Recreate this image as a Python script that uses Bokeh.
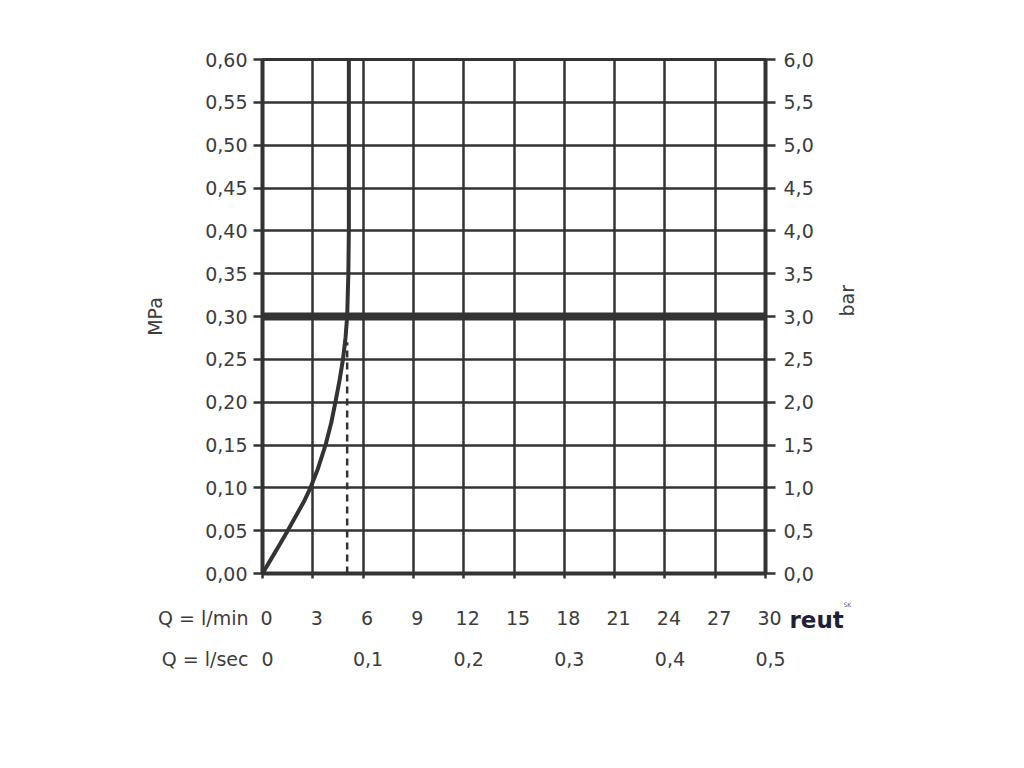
import math
from bokeh.plotting import figure
from bokeh.layouts import column
from bokeh.models import (LinearAxis, Range1d, FixedTicker, CustomJSTickFormatter)
from bokeh.core.properties import value
from bokeh.embed import file_html
from bokeh.resources import INLINE

# ---- data ----
mpa_ticks = [0.00, 0.05, 0.10, 0.15, 0.20, 0.25, 0.30, 0.35, 0.40, 0.45, 0.50, 0.55, 0.60]
bar_ticks = [0.0, 0.5, 1.0, 1.5, 2.0, 2.5, 3.0, 3.5, 4.0, 4.5, 5.0, 5.5, 6.0]
lmin_ticks = [0, 3, 6, 9, 12, 15, 18, 21, 24, 27, 30]
lmin_labels = ["0", "3", "6", "9", "12", "15", "18", "21", "24", "27", "30"]
lsec_ticks = [0, 6, 12, 18, 24, 30]
lsec_labels = ["0", "0,1", "0,2", "0,3", "0,4", "0,5"]
row_titles = ["Q = l/min", "Q = l/sec"]
logo_text = "reut"
logo_sup = "SK"

curve_q = [0, 0.5, 1.0, 1.5, 2.0, 2.5, 2.86, 3.3, 3.76, 4.1, 4.35, 4.6, 4.8, 4.95, 5.05, 5.12, 5.15, 5.15, 5.15]
curve_p = [0, 0.0165, 0.033, 0.05, 0.0675, 0.085, 0.10, 0.122, 0.15, 0.176, 0.20, 0.226, 0.25, 0.275, 0.30, 0.35, 0.40, 0.50, 0.60]

ref_pressure = 0.30
ref_q = [0, 30]
dash_q = 5.05
dash_p = [0, 0.27]

FONT = "DejaVu Sans"
FS = "19px"
TXT = "#3c3c3c"
LINE = "#333333"

# ---- layout constants (pixels) ----
W = 1008
HA, HB = 600, 152                      # main chart / bottom scale rows
FL, FR, FT, FB = 262, 765, 59, 573     # frame edges of the main chart
XMIN, XMAX = 0, 30

# ================= main chart =================
p = figure(width=W, height=HA, x_range=Range1d(XMIN, XMAX), y_range=Range1d(0, 0.60),
           output_backend="svg", toolbar_location=None,
           min_border_left=FL, min_border_right=W - FR,
           min_border_top=FT, min_border_bottom=HA - FB)
p.background_fill_color = "white"
p.border_fill_color = "white"
p.outline_line_color = LINE
p.outline_line_width = 3

def style_axis(ax, tick_out, standoff):
    ax.major_tick_out = tick_out
    ax.major_tick_in = 0
    ax.minor_tick_out = 0
    ax.minor_tick_in = 0
    ax.major_tick_line_width = 2.5
    ax.major_tick_line_color = LINE
    ax.axis_line_width = 4
    ax.axis_line_color = LINE
    ax.major_label_standoff = standoff
    ax.major_label_text_font = FONT
    ax.major_label_text_font_size = FS
    ax.major_label_text_color = TXT
    ax.axis_label_text_font = FONT
    ax.axis_label_text_font_size = FS
    ax.axis_label_text_font_style = "normal"
    ax.axis_label_text_color = TXT

# left axis (MPa)
la = p.yaxis[0]
la.ticker = FixedTicker(ticks=mpa_ticks)
la.formatter = CustomJSTickFormatter(code="return tick.toFixed(2).replace('.', ',');")
style_axis(la, 9, 6)
la.axis_label = "MPa"
la.axis_label_standoff = 36

# right axis (bar)
p.extra_y_ranges = {"bar": Range1d(0, 6.0)}
ra = LinearAxis(y_range_name="bar", ticker=FixedTicker(ticks=bar_ticks),
                formatter=CustomJSTickFormatter(code="return tick.toFixed(1).replace('.', ',');"))
style_axis(ra, 10, 8)
ra.axis_label = "bar"
ra.axis_label_orientation = math.pi / 2
ra.axis_label_standoff = 30
p.add_layout(ra, "right")

# bottom axis: tick marks only (its labels are set in the rows below)
ba = p.xaxis[0]
ba.ticker = FixedTicker(ticks=lmin_ticks)
style_axis(ba, 5, 0)
ba.formatter = CustomJSTickFormatter(code="return '';")
ba.major_label_text_font_size = "1px"

# grid
p.xgrid.ticker = FixedTicker(ticks=lmin_ticks)
p.ygrid.ticker = FixedTicker(ticks=mpa_ticks)
for g in (p.xgrid[0], p.ygrid[0]):
    g.grid_line_color = LINE
    g.grid_line_width = 2.5
    g.grid_line_alpha = 1.0

# reference pressure line
p.line(ref_q, [ref_pressure, ref_pressure], line_color=LINE, line_width=8)
# dashed flow marker
p.line([dash_q, dash_q], dash_p, line_color=LINE, line_width=2.5, line_dash="7 5")
# characteristic curve
p.line(curve_q, curve_p, line_color=LINE, line_width=4, line_join="round")

# ================= flow scale rows =================
k = (FR - FL) / (XMAX - XMIN)          # pixels per l/min, same scale as the chart
b = figure(width=W, height=HB,
           x_range=Range1d(XMIN - FL / k, XMIN + (W - FL) / k),
           y_range=Range1d(HB, 0),
           output_backend="svg", toolbar_location=None,
           x_axis_location=None, y_axis_location=None,
           min_border_left=0, min_border_right=0, min_border_top=0, min_border_bottom=0)
b.outline_line_color = None
b.grid.visible = False
b.background_fill_color = "white"
b.border_fill_color = "white"
for fig in (p, b):
    if "frame_align" in fig.properties():
        fig.frame_align = False

ROW1, ROW2 = 617 - HA, 658 - HA       # row centres, pixels from the top of this strip
tfont = value(FONT)
b.text(x=lmin_ticks, y=[ROW1] * len(lmin_ticks), text=lmin_labels,
       text_font=tfont, text_font_size=FS, text_color=TXT,
       text_align="center", text_baseline="middle", x_offset=4)
b.text(x=lsec_ticks, y=[ROW2] * len(lsec_ticks), text=lsec_labels,
       text_font=tfont, text_font_size=FS, text_color=TXT,
       text_align="center", text_baseline="middle", x_offset=5)
b.text(x=[XMIN - (FL - 248) / k] * 2, y=[ROW1, ROW2], text=row_titles,
       text_font=tfont, text_font_size=FS, text_color=TXT,
       text_align="right", text_baseline="middle")
# logo
b.text(x=[XMIN + (789 - FL) / k], y=[619 - HA], text=[logo_text],
       text_font=tfont, text_font_style="bold", text_font_size="23px",
       text_color="#1e2236", text_align="left", text_baseline="middle")
b.text(x=[XMIN + (843 - FL) / k], y=[604 - HA], text=[logo_sup],
       text_font=tfont, text_font_size="6px", text_color="#555a66",
       text_align="left", text_baseline="middle")

open("out.html", "w").write(file_html(column(p, b, spacing=0), INLINE))
